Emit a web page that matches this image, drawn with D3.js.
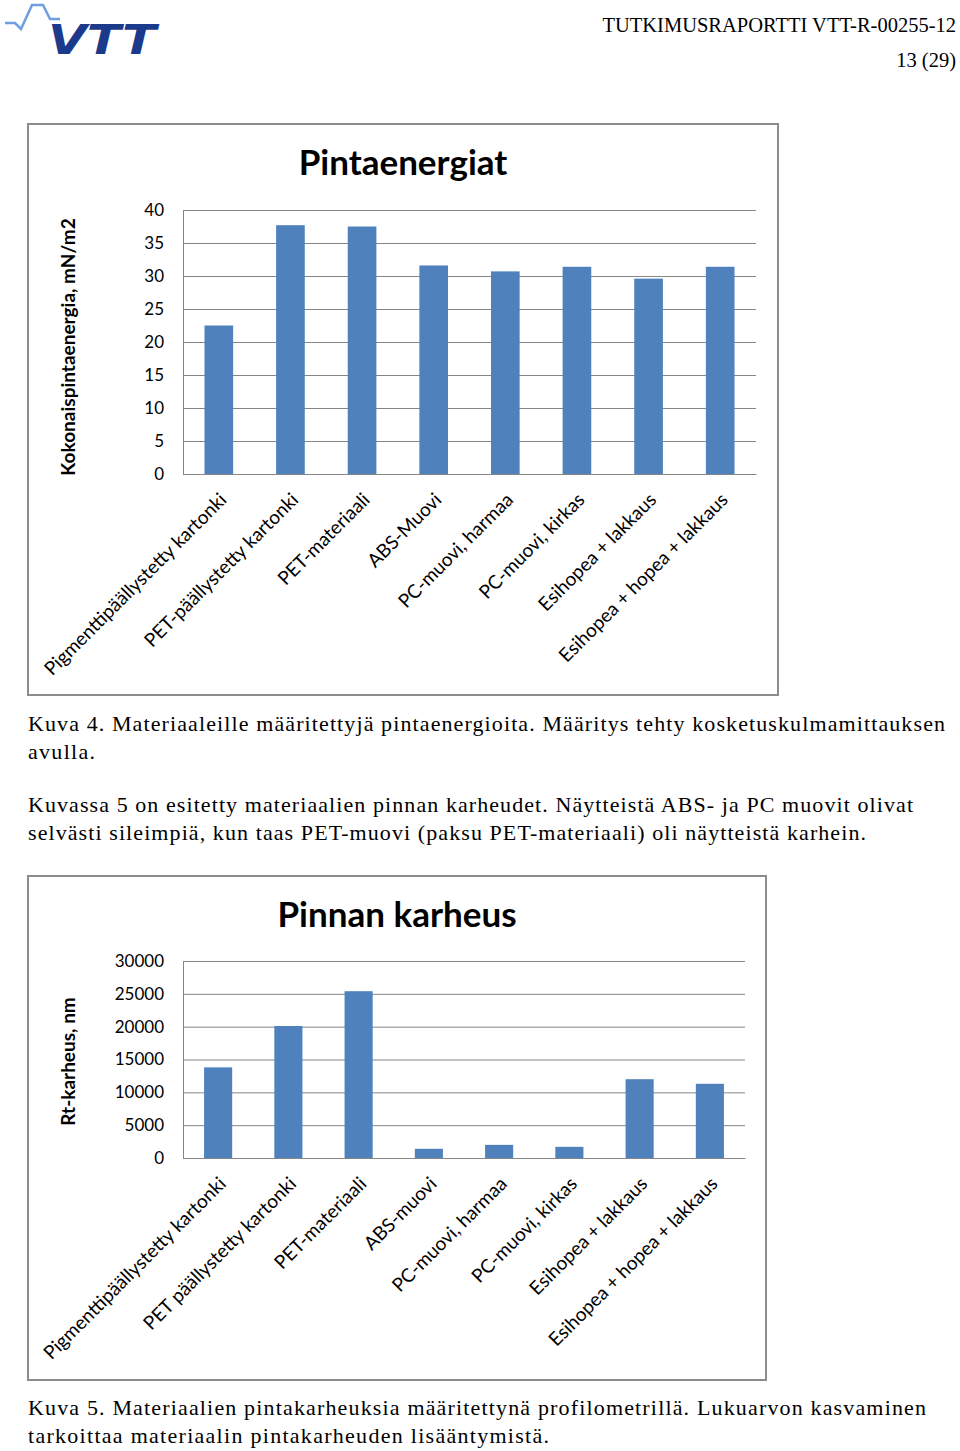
<!DOCTYPE html>
<html>
<head>
<meta charset="utf-8">
<script src="https://cdn.jsdelivr.net/npm/d3@7"></script>
<style>
  body { margin: 0; background: #fff; }
  svg { display: block; }
</style>
</head>
<body>
<div id="container"></div>
<script>
// data
const energyCats = ["Pigmenttipäällystetty kartonki", "PET-päällystetty kartonki", "PET-materiaali", "ABS-Muovi",
    "PC-muovi, harmaa", "PC-muovi, kirkas", "Esihopea + lakkaus", "Esihopea + hopea + lakkaus"];
const energyValues = [22.5, 37.7, 37.5, 31.6, 30.7, 31.4, 29.6, 31.4];
const energyTicks = [0, 5, 10, 15, 20, 25, 30, 35, 40];

const roughCats = ["Pigmenttipäällystetty kartonki", "PET päällystetty kartonki", "PET-materiaali", "ABS-muovi",
    "PC-muovi, harmaa", "PC-muovi, kirkas", "Esihopea + lakkaus", "Esihopea + hopea + lakkaus"];
const roughValues = [13800, 20100, 25400, 1400, 2000, 1700, 12000, 11300];
const roughTicks = [0, 5000, 10000, 15000, 20000, 25000, 30000];

const barColor = "#4f81bd";
const gridColor = "#868686";
const sans = "Lato, 'Open Sans', sans-serif";
const serif = "'Liberation Serif', 'DejaVu Serif', serif";

const svg = d3.select("#container").append("svg")
    .attr("width", 960)
    .attr("height", 1451);

svg.append("rect").attr("width", 960).attr("height", 1451).attr("fill", "#fff");

// logo
const logo = svg.append("g");
logo.append("path")
    .attr("d", "M5,23 L15,23 L21,29 L32,5 L43,5 L50,19 L60,19")
    .attr("fill", "none")
    .attr("stroke", "#6e9fe0")
    .attr("stroke-width", 2.5);
logo.append("text")
    .attr("x", 48).attr("y", 54)
    .attr("textLength", 108).attr("lengthAdjust", "spacingAndGlyphs")
    .style("font-family", "'DejaVu Sans', sans-serif")
    .style("font-weight", "bold").style("font-style", "italic")
    .style("font-size", "40px")
    .attr("fill", "#1b3a8c")
    .text("VTT");

// header
svg.append("text").attr("x", 956).attr("y", 32).attr("text-anchor", "end")
    .style("font-family", serif).style("font-size", "20.5px")
    .text("TUTKIMUSRAPORTTI VTT-R-00255-12");
svg.append("text").attr("x", 956).attr("y", 67).attr("text-anchor", "end")
    .style("font-family", serif).style("font-size", "20.5px")
    .text("13 (29)");

const drawChart = (cfg) => {
    const g = svg.append("g");

    g.append("rect")
        .attr("x", cfg.frame[0]).attr("y", cfg.frame[1])
        .attr("width", cfg.frame[2]).attr("height", cfg.frame[3])
        .attr("fill", "#fff").attr("stroke", "#8c8c8c").attr("stroke-width", 2);

    const x = d3.scaleBand()
        .domain(cfg.cats)
        .range([cfg.left, cfg.right])
        .paddingInner(0.6)
        .paddingOuter(0.3);

    const y = d3.scaleLinear()
        .domain([0, d3.max(cfg.ticks)])
        .range([cfg.bottom, cfg.top]);

    // gridlines
    g.append("g")
        .attr("transform", "translate(" + cfg.left + ",0)")
        .call(d3.axisLeft(y).tickValues(cfg.ticks).tickSize(-(cfg.right - cfg.left)).tickFormat(""))
        .call(a => a.select(".domain").remove())
        .selectAll("line").attr("stroke", gridColor);

    // y axis with labels
    g.append("g")
        .attr("transform", "translate(" + cfg.left + ",0)")
        .call(d3.axisLeft(y).tickValues(cfg.ticks).tickSize(0).tickPadding(19).tickFormat(d3.format("d")))
        .call(a => a.select(".domain").attr("stroke", gridColor))
        .selectAll("text")
        .style("font-family", sans).style("font-size", "17px").attr("fill", "#000");

    // bars
    g.selectAll("rect.bar")
        .data(cfg.values)
        .enter()
        .append("rect")
        .attr("class", "bar")
        .attr("x", (d, i) => x(cfg.cats[i]))
        .attr("y", d => y(d))
        .attr("width", x.bandwidth())
        .attr("height", d => y(0) - y(d))
        .attr("fill", barColor);

    // x axis line
    g.append("g")
        .attr("transform", "translate(0," + cfg.bottom + ")")
        .call(d3.axisBottom(x).tickSize(0).tickFormat(""))
        .select(".domain").attr("stroke", gridColor);

    // category labels
    g.selectAll("text.cat")
        .data(cfg.cats)
        .enter()
        .append("text")
        .attr("class", "cat")
        .attr("text-anchor", "end")
        .attr("transform", d => "translate(" + (x(d) + x.bandwidth() / 2 + 9) + "," + (cfg.bottom + 27) + ") rotate(-45)")
        .style("font-family", sans).style("font-size", "19px")
        .text(d => d);

    // title
    g.append("text")
        .attr("x", cfg.titleX).attr("y", cfg.titleY)
        .attr("text-anchor", "middle")
        .style("font-family", sans).style("font-weight", "bold").style("font-size", "35px")
        .text(cfg.title);

    // y title
    g.append("text")
        .attr("transform", "translate(75," + ((cfg.top + cfg.bottom) / 2 + cfg.yTitleShift) + ") rotate(-90)")
        .attr("text-anchor", "middle")
        .style("font-family", sans).style("font-weight", "bold").style("font-size", "19px")
        .text(cfg.yTitle);
};

drawChart({
    cats: energyCats, values: energyValues, ticks: energyTicks,
    frame: [28, 124, 750, 571],
    left: 183, right: 756, top: 210, bottom: 474,
    title: "Pintaenergiat", titleX: 403, titleY: 175,
    yTitle: "Kokonaispintaenergia, mN/m2", yTitleShift: 5
});

drawChart({
    cats: roughCats, values: roughValues, ticks: roughTicks,
    frame: [28, 876, 738, 504],
    left: 183, right: 745, top: 961, bottom: 1158,
    title: "Pinnan karheus", titleX: 397, titleY: 927,
    yTitle: "Rt-karheus, nm", yTitleShift: 2
});

// body text
const bodyLines = [
    {t: "Kuva 4. Materiaaleille määritettyjä pintaenergioita. Määritys tehty kosketuskulmamittauksen", y: 731, w: 917},
    {t: "avulla.", y: 759, w: 67},
    {t: "Kuvassa 5 on esitetty materiaalien pinnan karheudet. Näytteistä ABS- ja PC muovit olivat", y: 812, w: 885},
    {t: "selvästi sileimpiä, kun taas PET-muovi (paksu PET-materiaali) oli näytteistä karhein.", y: 840, w: 838},
    {t: "Kuva 5. Materiaalien pintakarheuksia määritettynä profilometrillä. Lukuarvon kasvaminen", y: 1415, w: 898},
    {t: "tarkoittaa materiaalin pintakarheuden lisääntymistä.", y: 1443, w: 521}
];

svg.selectAll("text.body")
    .data(bodyLines)
    .enter()
    .append("text")
    .attr("class", "body")
    .attr("x", 28)
    .attr("y", d => d.y)
    .attr("textLength", d => d.w)
    .attr("lengthAdjust", "spacing")
    .style("font-family", serif).style("font-size", "22px")
    .text(d => d.t);
</script>
</body>
</html>
